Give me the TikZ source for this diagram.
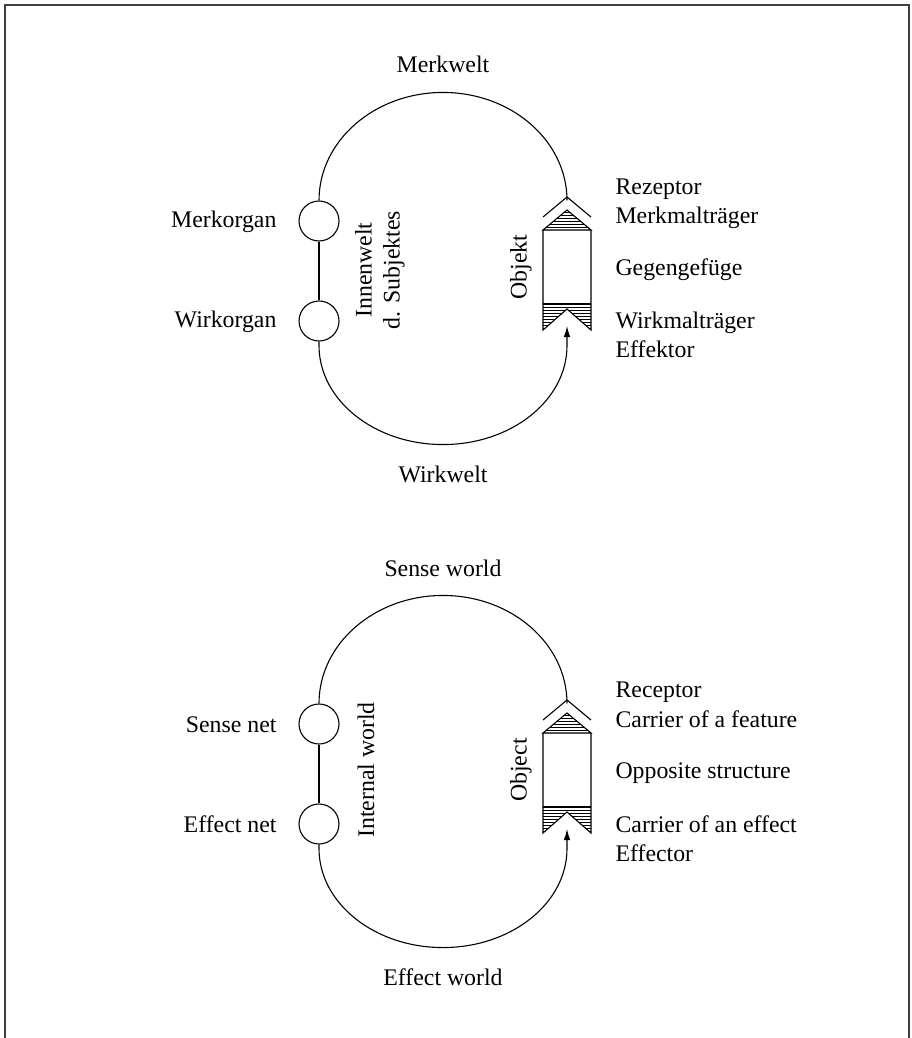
\documentclass[tikz,border=0pt]{standalone}
\usepackage{fontspec}
\setmainfont{Liberation Serif}
\usetikzlibrary{arrows.meta}
\begin{document}
\begin{tikzpicture}[x=1pt,y=-1pt,line width=1.1pt,
  lbl/.style={font=\fontsize{23.8}{28}\selectfont,inner sep=0pt},
  organ/.style={circle,draw,minimum size=40pt,inner sep=0pt},
  hatchline/.style={line width=0.7pt},
  arr/.style={-{Latex[length=11pt,width=6.5pt]}},
  frameline/.style={draw=black!75,line width=1.6pt}]
\useasboundingbox (0,0) rectangle (912,1038);
\draw[frameline] (5,1038) -- (5,5) -- (909,5) -- (909,1038);

% ---------- upper diagram ----------
\begin{scope}
  \node[organ] (mo) at (319,221) {};
  \node[organ] (wo) at (319,321) {};
  \draw (mo) -- (wo);
  \coordinate (apexA) at (567,197);
  \coordinate (tipA) at (567,326);
  % object
  \draw (543,217) -- (apexA) -- (591,217);
  \begin{scope}
    \clip (543,230) -- (567,210) -- (591,230) -- cycle;
    \foreach \yy in {212,215,...,230} \draw[hatchline] (540,\yy) -- (594,\yy);
  \end{scope}
  \draw (543,230) -- (567,210) -- (591,230) -- cycle;
  \begin{scope}
    \clip (543,304) -- (591,304) -- (591,330) -- (567,309) -- (543,330) -- cycle;
    \foreach \yy in {304,307,...,331} \draw[hatchline] (540,\yy) -- (594,\yy);
  \end{scope}
  \draw (591,230) -- (591,330) -- (567,309) -- (543,330) -- (543,230);
  \draw (543,304) -- (591,304);
  % loops
  \draw (mo.north) arc[start angle=180,end angle=360,x radius=124,y radius=108] -- (apexA);
  \draw[arr] (wo.south) -- ++(0,4) arc[start angle=180,end angle=0,x radius=124,y radius=99] -- (tipA);
  % labels
  \node[lbl,anchor=base] (mw) at (443,73) {Merkwelt};
  \node[lbl,anchor=base] (ww) at (443,482) {Wirkwelt};
  \node[lbl,anchor=base east] (mol) at (277,227) {Merkorgan};
  \node[lbl,anchor=base east] (wol) at (277,327) {Wirkorgan};
  \node[lbl,rotate=90,align=center] (inw) at (380,270) {Innenwelt\\d. Subjektes};
  \node[lbl,rotate=90] (obj) at (521,267) {Objekt};
  \node[lbl,anchor=base west] (r1) at (615,194) {Rezeptor};
  \node[lbl,anchor=base west] (r2) at (615,223) {Merkmalträger};
  \node[lbl,anchor=base west] (r3) at (615,275) {Gegengefüge};
  \node[lbl,anchor=base west] (r4) at (615,328) {Wirkmalträger};
  \node[lbl,anchor=base west] (r5) at (615,357) {Effektor};
\end{scope}

% ---------- lower diagram ----------
\begin{scope}[shift={(0,503)}]
  \node[organ] (sn) at (319,221) {};
  \node[organ] (en) at (319,321) {};
  \draw (sn) -- (en);
  \coordinate (apexB) at (567,197);
  \coordinate (tipB) at (567,326);
  \draw (543,217) -- (apexB) -- (591,217);
  \begin{scope}
    \clip (543,230) -- (567,210) -- (591,230) -- cycle;
    \foreach \yy in {212,215,...,230} \draw[hatchline] (540,\yy) -- (594,\yy);
  \end{scope}
  \draw (543,230) -- (567,210) -- (591,230) -- cycle;
  \begin{scope}
    \clip (543,304) -- (591,304) -- (591,330) -- (567,309) -- (543,330) -- cycle;
    \foreach \yy in {304,307,...,331} \draw[hatchline] (540,\yy) -- (594,\yy);
  \end{scope}
  \draw (591,230) -- (591,330) -- (567,309) -- (543,330) -- (543,230);
  \draw (543,304) -- (591,304);
  \draw (sn.north) arc[start angle=180,end angle=360,x radius=124,y radius=108] -- (apexB);
  \draw[arr] (en.south) -- ++(0,4) arc[start angle=180,end angle=0,x radius=124,y radius=99] -- (tipB);
  \node[lbl,anchor=base] (sw) at (443,73) {Sense world};
  \node[lbl,anchor=base] (ew) at (443,482) {Effect world};
  \node[lbl,anchor=base east] (snl) at (277,229) {Sense net};
  \node[lbl,anchor=base east] (enl) at (277,329) {Effect net};
  \node[lbl,rotate=90] (intw) at (366,267) {Internal world};
  \node[lbl,rotate=90] (objb) at (521,267) {Object};
  \node[lbl,anchor=base west] (q1) at (615,194) {Receptor};
  \node[lbl,anchor=base west] (q2) at (615,224) {Carrier of a feature};
  \node[lbl,anchor=base west] (q3) at (615,275) {Opposite structure};
  \node[lbl,anchor=base west] (q4) at (615,329) {Carrier of an effect};
  \node[lbl,anchor=base west] (q5) at (615,358) {Effector};
\end{scope}
\end{tikzpicture}
\end{document}
